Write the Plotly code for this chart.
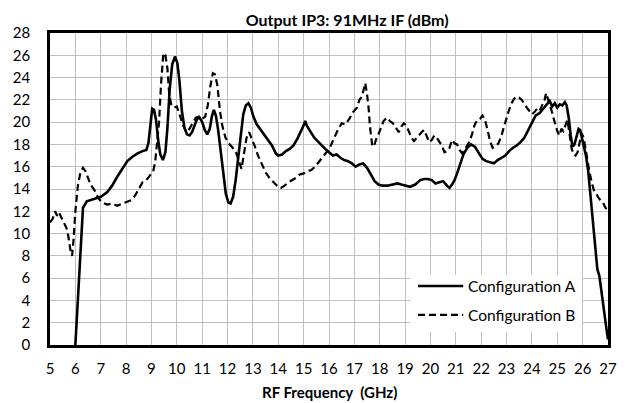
import plotly.graph_objects as go

# Configuration A (solid)
freq_a = [6.0, 6.1, 6.2, 6.3, 6.45, 6.7, 7.0, 7.25, 7.45, 7.65, 7.85, 8.05, 8.25, 8.45, 8.65, 8.8,
          8.88, 8.95, 9.03, 9.1, 9.18, 9.27, 9.35, 9.45, 9.55, 9.63, 9.72, 9.82, 9.93, 10.02, 10.1,
          10.2, 10.3, 10.4, 10.5, 10.6, 10.7, 10.8, 10.9, 11.0, 11.1, 11.2, 11.3, 11.38, 11.46, 11.54,
          11.63, 11.73, 11.83, 11.93, 12.03, 12.12, 12.22, 12.32, 12.42, 12.52, 12.62, 12.72, 12.82,
          12.92, 13.02, 13.15, 13.3, 13.45, 13.6, 13.75, 13.9, 14.0, 14.15, 14.3, 14.45, 14.6, 14.75,
          14.88, 14.98, 15.06, 15.12, 15.2, 15.3, 15.42, 15.55, 15.7, 15.85, 16.0, 16.15, 16.3, 16.45,
          16.6, 16.75, 16.9, 17.05, 17.2, 17.35, 17.5, 17.65, 17.8, 17.95, 18.1, 18.3, 18.5, 18.7,
          18.85, 19.0, 19.2, 19.4, 19.6, 19.75, 19.9, 20.05, 20.2, 20.35, 20.5, 20.65, 20.75, 20.85,
          20.95, 21.05, 21.15, 21.3, 21.45, 21.6, 21.75, 21.9, 22.05, 22.2, 22.35, 22.5, 22.65, 22.8,
          22.95, 23.1, 23.25, 23.4, 23.55, 23.7, 23.85, 24.0, 24.15, 24.3, 24.45, 24.6, 24.7, 24.8,
          24.9, 25.0, 25.1, 25.2, 25.3, 25.37, 25.45, 25.53, 25.6, 25.68, 25.76, 25.84, 25.9, 25.97,
          26.05, 26.13, 26.22, 26.32, 26.42, 26.5, 26.58, 26.66, 26.75, 26.84, 26.93, 27.0]
ip3_a = [0, 4.5, 9, 12.3, 12.9, 13.1, 13.3, 13.7, 14.3, 15.1, 15.8, 16.5, 16.9, 17.2, 17.4, 17.5,
         18.1, 19.8, 21.2, 21.1, 20.2, 18.3, 17.1, 16.6, 17.3, 19.5, 23.0, 25.2, 25.9, 25.3, 23.8,
         21.0, 19.5, 18.9, 18.8, 19.1, 19.7, 20.3, 20.4, 20.0, 19.3, 18.9, 19.4, 20.5, 21.1, 20.6,
         19.3, 17.4, 15.4, 13.6, 12.8, 12.7, 13.3, 14.8, 16.8, 19.0, 20.7, 21.5, 21.7,
         21.3, 20.5, 19.8, 19.3, 18.8, 18.4, 17.9, 17.2, 17.0, 17.1, 17.4, 17.6, 17.9, 18.5,
         19.1, 19.6, 20.1, 19.7, 19.4, 19.0, 18.6, 18.3, 17.9, 17.6, 17.3, 17.0, 17.1, 16.8,
         16.6, 16.5, 16.3, 16.0, 16.2, 16.3, 15.9, 15.3, 14.7, 14.4, 14.3, 14.3, 14.4, 14.5,
         14.4, 14.3, 14.2, 14.4, 14.8, 14.9, 14.9, 14.8, 14.5, 14.6, 14.7, 14.3, 14.1, 14.4,
         14.8, 15.4, 16.1, 17.1, 17.7, 18.0, 17.8, 17.2, 16.7, 16.5, 16.4, 16.3, 16.6, 16.8,
         17.0, 17.4, 17.7, 17.9, 18.2, 18.6, 19.3, 20.0, 20.6, 20.8, 21.2, 21.6, 21.9, 21.4,
         21.7, 21.3, 21.6, 21.5, 21.8, 21.5, 20.4, 18.8, 17.8, 18.0, 18.6, 19.4, 19.3, 18.6,
         18.0, 17.0, 15.6, 13.2, 10.6, 8.4, 6.8, 6.2, 4.5, 3.0, 1.6, 0.5]

# Configuration B (dashed)
freq_b = [5.0, 5.1, 5.2, 5.28, 5.35, 5.45, 5.55, 5.65, 5.72, 5.8, 5.87, 5.93, 6.0, 6.1, 6.2, 6.3,
          6.4, 6.5, 6.6, 6.75, 6.9, 7.05, 7.25, 7.45, 7.65, 7.85, 8.05, 8.2, 8.35, 8.5, 8.65, 8.8,
          8.95, 9.07, 9.15, 9.22, 9.3, 9.38, 9.47, 9.55, 9.63, 9.7, 9.78, 9.88, 10.0, 10.12, 10.25,
          10.38, 10.5, 10.62, 10.75, 10.88, 11.0, 11.12, 11.22, 11.32, 11.42, 11.5, 11.6, 11.7, 11.8,
          11.92, 12.05, 12.2, 12.35, 12.45, 12.55, 12.65, 12.75, 12.85, 12.95, 13.08, 13.2, 13.35,
          13.5, 13.65, 13.8, 13.95, 14.1, 14.25, 14.4, 14.55, 14.7, 14.85, 15.0, 15.15, 15.3, 15.45,
          15.6, 15.75, 15.9, 16.05, 16.2, 16.35, 16.5, 16.65, 16.8, 16.95, 17.1, 17.2, 17.3, 17.38,
          17.43, 17.5, 17.56, 17.62, 17.7, 17.77, 17.85, 17.95, 18.05, 18.15, 18.28, 18.4, 18.52,
          18.65, 18.75, 18.85, 18.95, 19.05, 19.15, 19.25, 19.35, 19.45, 19.55, 19.65, 19.75, 19.85,
          19.95, 20.05, 20.15, 20.25, 20.35, 20.45, 20.55, 20.65, 20.75, 20.85, 20.95, 21.05, 21.15,
          21.25, 21.35, 21.45, 21.55, 21.65, 21.75, 21.85, 21.95, 22.05, 22.15, 22.25, 22.35, 22.45,
          22.55, 22.68, 22.8, 22.9, 23.0, 23.1, 23.2, 23.3, 23.4, 23.5, 23.6, 23.7, 23.8, 23.9, 24.0,
          24.1, 24.2, 24.3, 24.4, 24.5, 24.56, 24.62, 24.7, 24.78, 24.85, 24.92, 25.0, 25.08, 25.16,
          25.24, 25.32, 25.4, 25.48, 25.56, 25.64, 25.72, 25.8, 25.88, 25.96, 26.04, 26.12, 26.2,
          26.28, 26.36, 26.44, 26.52, 26.6, 26.7, 26.8, 26.9, 27.0]
ip3_b = [11.0, 11.3, 12.0, 11.6, 11.9, 11.4, 11.0, 10.5, 9.8, 8.6, 8.0, 9.5, 12.0, 14.3, 15.5, 15.9,
         15.6, 14.9, 14.4, 13.9, 13.2, 12.8, 12.6, 12.7, 12.5, 12.7, 12.9, 13.0, 13.4, 14.0, 14.6, 14.8,
         15.2, 15.6, 16.5, 18.0, 20.0, 23.5, 26.2, 26.0, 24.8, 22.5, 21.6, 21.3, 21.4, 20.6, 19.7,
         19.1, 19.4, 19.9, 20.4, 20.5, 20.3, 20.5, 21.5, 23.2, 24.4, 24.3, 23.3, 21.0, 19.6,
         18.6, 18.1, 17.7, 17.2, 16.5, 15.8, 17.2, 18.6, 19.1, 18.6, 17.8, 17.0, 16.3,
         15.5, 15.0, 14.6, 14.3, 14.1, 14.3, 14.6, 14.8, 15.0, 15.3, 15.4, 15.6, 15.7, 16.0,
         16.4, 16.9, 17.3, 17.8, 18.6, 19.3, 19.9, 19.8, 20.3, 20.9, 21.3, 22.0, 22.3, 23.2,
         23.5, 22.5, 21.3, 19.5, 18.0, 17.8, 18.4, 18.9, 19.5, 20.1, 20.4, 20.1, 19.9,
         19.5, 19.1, 19.6, 19.9, 19.7, 19.2, 18.6, 18.3, 18.6, 18.9, 19.1, 19.3, 18.8,
         18.2, 18.4, 18.8, 18.6, 18.3, 17.9, 17.3, 17.4, 17.7, 18.4, 18.1, 18.0, 17.5,
         17.2, 17.5, 17.9, 18.3, 19.0, 19.8, 20.2, 20.3, 20.6, 20.2, 19.3, 18.3, 17.7,
         17.8, 18.1, 18.8, 19.6, 20.4, 21.1, 21.7, 22.1, 22.3, 22.2, 22.0, 21.6, 21.3, 21.0, 20.7,
         20.9, 21.2, 21.0, 21.5, 22.0, 22.6, 22.2, 21.7, 21.0, 20.4, 19.7, 19.2, 18.8, 19.4,
         19.2, 19.8, 20.2, 19.0, 17.7, 17.1, 17.0, 17.3, 18.3, 19.0, 18.6, 17.4, 16.2,
         15.4, 14.6, 13.9, 13.7, 13.3, 13.0, 12.8, 12.3, 12.1]

series_names = ["Configuration A", "Configuration B"]
x_ticks = list(range(5, 28))
y_ticks = list(range(0, 29, 2))

FONT = "Lato"
W, H = 630, 403
M = dict(l=50, r=22, t=33, b=58)
plot_h = H - M["t"] - M["b"]
DASH = "7px,4px"

fig = go.Figure()
fig.add_trace(go.Scatter(x=freq_a, y=ip3_a, mode="lines", name=series_names[0],
                         line=dict(color="black", width=2.6), showlegend=False))
fig.add_trace(go.Scatter(x=freq_b, y=ip3_b, mode="lines", name=series_names[1],
                         line=dict(color="black", width=2.2, dash=DASH), showlegend=False))

# hand-built legend box so the line samples match the original length
fig.add_shape(type="rect", x0=19.2, x1=25.97, y0=1.2, y1=6.29,
              fillcolor="white", line=dict(width=0), layer="above")
fig.add_shape(type="line", x0=19.51, x1=21.29, y0=5.3, y1=5.3,
              line=dict(color="black", width=2.6), layer="above")
fig.add_shape(type="line", x0=19.51, x1=21.29, y0=2.7, y1=2.7,
              line=dict(color="black", width=2.2, dash=DASH), layer="above")
for yv, name in zip([5.3, 2.7], series_names):
    fig.add_annotation(x=21.42, y=yv, text=name, showarrow=False, xanchor="left",
                       font=dict(family=FONT, size=15.5, color="black"))

# x-axis title, centred 47 px below the plot
fig.add_annotation(x=0.5, y=-47 / plot_h, xref="paper", yref="paper",
                   xanchor="center", yanchor="middle",
                   text="<b>RF Frequency  (GHz)</b>", showarrow=False,
                   font=dict(family=FONT, size=15, color="black"))

fig.update_layout(
    width=W, height=H,
    margin=M,
    paper_bgcolor="white", plot_bgcolor="white",
    font=dict(family=FONT, size=15, color="black"),
    title=dict(text="<b>Output IP3: 91MHz IF (dBm)</b>", xref="container", x=0.551,
               xanchor="center", y=1 - 20 / H, yanchor="middle",
               font=dict(family=FONT, size=16, color="black")),
    xaxis=dict(range=[5, 27], tickvals=x_ticks, showgrid=True, gridcolor="#c0c0c0", gridwidth=1,
               showline=True, linecolor="black", linewidth=2.5, mirror=True,
               ticks="", ticklabelstandoff=8, zeroline=False, automargin=False),
    yaxis=dict(range=[0, 28], tickvals=y_ticks, showgrid=True, gridcolor="#c0c0c0", gridwidth=1,
               showline=True, linecolor="black", linewidth=2.5, mirror=True,
               ticks="", ticklabelstandoff=14, zeroline=False, automargin=False),
)

fig.write_html("out.html", config={"displayModeBar": False},
               post_script="document.body.style.margin='0';")
